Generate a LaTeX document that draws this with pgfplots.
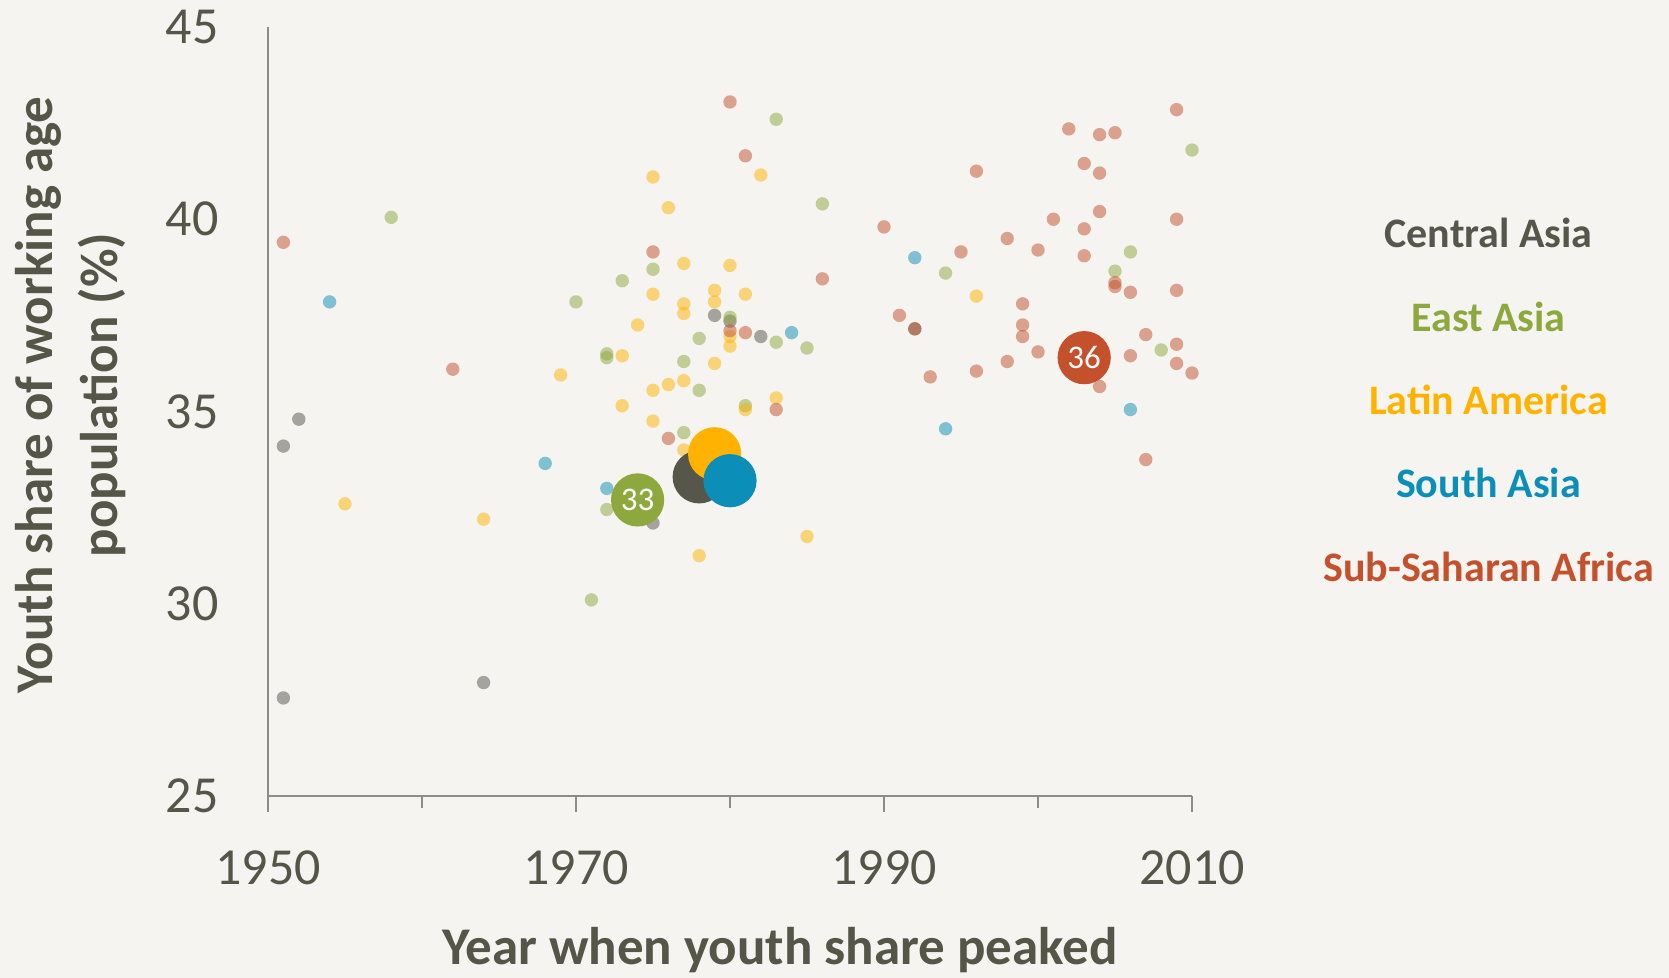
\documentclass[border=0pt]{standalone}
\usepackage{fontspec}
\setmainfont{Carlito}
\usepackage{pgfplots}
\pgfplotsset{compat=1.18}
\definecolor{bg}{HTML}{F5F4F0}
\definecolor{ca}{HTML}{56564A}
\definecolor{ea}{HTML}{8DA83D}
\definecolor{la}{HTML}{FFB300}
\definecolor{sa}{HTML}{0B8EB8}
\definecolor{ssa}{HTML}{C4502C}
\definecolor{txt}{HTML}{555548}
\definecolor{axc}{HTML}{8C8C8C}
\pgfplotsset{
  small/.style={only marks, mark=*, mark size=3.35pt,
    mark options={fill=#1, draw opacity=0, fill opacity=0.5}},
  big/.style={only marks, mark=*, mark size=13.3pt,
    mark options={fill=#1, draw opacity=0}},
}
\begin{document}
\begin{tikzpicture}
\fill[bg] (0,0) rectangle (834.5pt,489pt);
\useasboundingbox (0,0) rectangle (834.5pt,489pt);
\begin{axis}[
  at={(134pt,91pt)}, anchor=south west,
  scale only axis, width=462pt, height=384.5pt,
  xmin=1950, xmax=2010, ymin=25, ymax=45,
  axis x line*=bottom, axis y line*=left,
  axis line style={axc, line width=1pt},
  xtick={1950,1970,1990,2010}, minor xtick={1960,1980,2000},
  ytick={25,30,35,40,45},
  tick align=outside,
  major tick length=8pt, minor tick length=6pt,
  tick style={axc, line width=0.8pt},
  ytick style={draw=none},
  ticklabel style={font=\fontsize{26}{30}\selectfont, text=txt},
  xticklabel style={anchor=base, inner sep=0pt, yshift=-36.5pt},
  yticklabel style={anchor=east, inner sep=0pt, xshift=-16.5pt},
  /pgf/number format/assume math mode=true,
  /pgf/number format/1000 sep={},
  clip=false,
]
% Central Asia
\addplot[small=ca] coordinates {
(1951,34.1) (1951,27.55) (1952,34.8) (1964,27.95) (1975,32.1)
(1979,37.5) (1980,37.35) (1982,36.95) (1992,37.15)
};
% East Asia
\addplot[small=ea] coordinates {
(1958,40.05) (1970,37.85) (1971,30.1) (1972,36.5) (1972,36.4) (1972,32.45)
(1973,38.4) (1975,38.7) (1977,36.3) (1977,34.45) (1978,36.9) (1978,35.55)
(1980,37.45) (1981,35.15) (1983,42.6) (1983,36.8) (1985,36.65) (1986,40.4)
(1994,38.6) (2005,38.65) (2006,39.15) (2008,36.6) (2010,41.8)
};
% Latin America
\addplot[small=la] coordinates {
(1955,32.6) (1964,32.2) (1969,35.95) (1973,36.45) (1973,35.15) (1974,37.25)
(1975,41.1) (1975,38.05) (1975,35.55) (1975,34.75) (1976,40.3) (1976,35.7)
(1977,38.85) (1977,37.8) (1977,37.55) (1977,35.8) (1977,34.0) (1978,31.25)
(1979,38.15) (1979,37.85) (1979,36.25) (1980,38.8) (1980,36.95) (1980,36.7)
(1981,38.05) (1981,35.05) (1982,41.15) (1983,35.35) (1985,31.75) (1996,38.0)
};
% South Asia
\addplot[small=sa] coordinates {
(1954,37.85) (1968,33.65) (1972,33.0) (1984,37.05) (1992,39.0) (1994,34.55) (2006,35.05)
};
% Sub-Saharan Africa
\addplot[small=ssa] coordinates {
(1951,39.4) (1962,36.1) (1975,39.15) (1976,34.3) (1980,43.05) (1980,37.1)
(1981,41.65) (1981,37.05) (1983,35.05) (1986,38.45) (1990,39.8) (1991,37.5)
(1992,37.15) (1993,35.9) (1995,39.15) (1996,41.25) (1996,36.05) (1998,39.5)
(1998,36.3) (1999,37.8) (1999,37.25) (1999,36.95) (2000,39.2) (2000,36.55)
(2001,40.0) (2002,42.35) (2003,41.45) (2003,39.75) (2003,39.05) (2004,42.2)
(2004,41.2) (2004,40.2) (2004,35.65) (2005,42.25) (2005,38.35) (2005,38.25)
(2006,38.1) (2006,36.45) (2007,37.0) (2007,33.75) (2009,42.85) (2009,40.0)
(2009,38.15) (2009,36.75) (2009,36.25) (2010,36.0)
};
% regional averages
\addplot[big=ca] coordinates {(1978,33.3)};
\addplot[big=la] coordinates {(1979,33.9)};
\addplot[big=sa] coordinates {(1980,33.2)};
\addplot[big=ea, nodes near coords={33},
  every node near coord/.append style={anchor=center, text=white, font=\fontsize{16.5}{18}\selectfont}]
  coordinates {(1974,32.7)};
\addplot[big=ssa, nodes near coords={36},
  every node near coord/.append style={anchor=center, text=white, font=\fontsize{16.5}{18}\selectfont}]
  coordinates {(2003,36.4)};
\end{axis}
% axis titles
\node[rotate=90, anchor=base, text=txt, font=\bfseries\fontsize{26.5}{32}\selectfont]
  at (26pt,291.5pt) {Youth share of working age};
\node[rotate=90, anchor=base, text=txt, font=\bfseries\fontsize{26.5}{32}\selectfont]
  at (58.5pt,291.5pt) {population (\%)};
\node[anchor=base, text=txt, font=\bfseries\fontsize{26.5}{32}\selectfont]
  at (390pt,6.5pt) {Year when youth share peaked};
% legend
\begin{scope}[every node/.style={anchor=base, font=\bfseries\fontsize{21}{25}\selectfont}]
\node[text=ca]  at (744.25pt,365pt) {Central Asia};
\node[text=ea]  at (744.25pt,323pt) {East Asia};
\node[text=la]  at (744.25pt,281.5pt) {Latin America};
\node[text=sa]  at (744.25pt,240pt) {South Asia};
\node[text=ssa] at (744.25pt,198pt) {Sub-Saharan Africa};
\end{scope}
\end{tikzpicture}
\end{document}
